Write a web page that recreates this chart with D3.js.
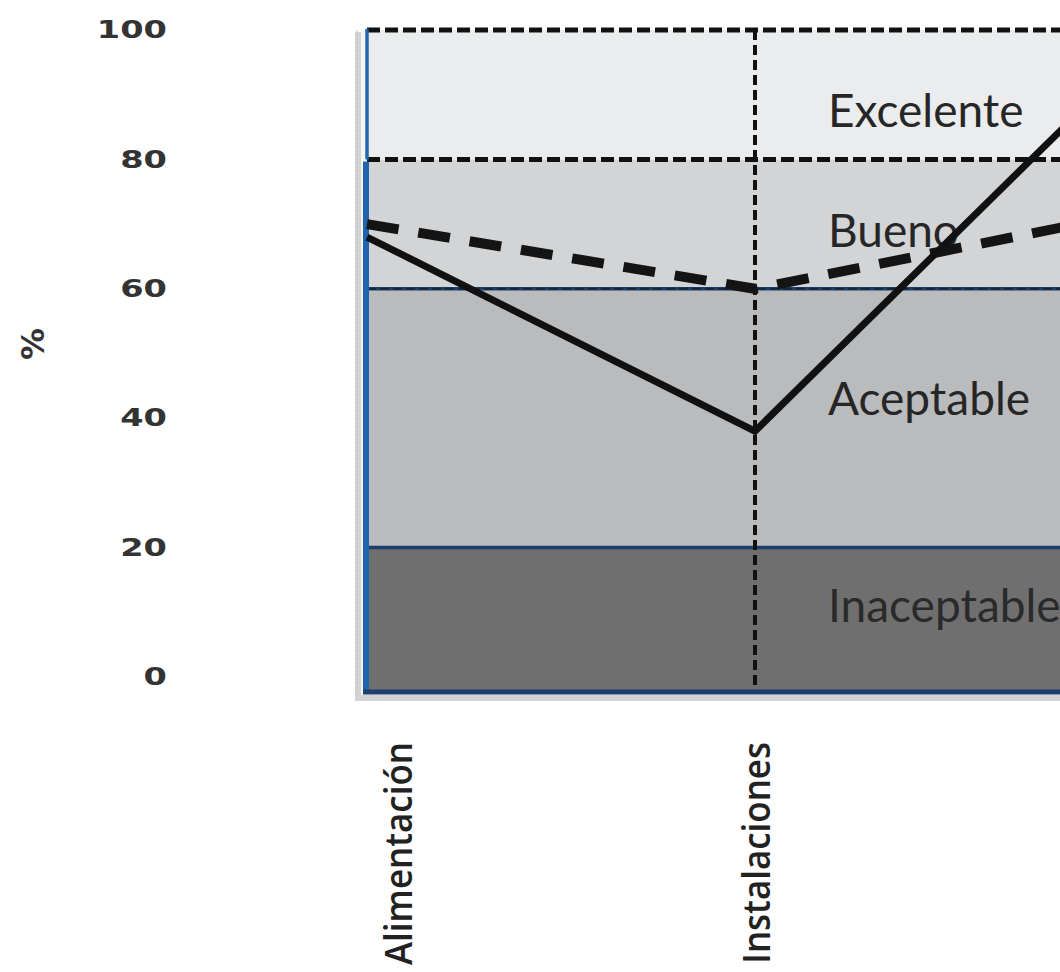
<!DOCTYPE html>
<html>
<head>
<meta charset="utf-8">
<script src="https://cdn.jsdelivr.net/npm/d3@7"></script>
<style>
  html, body { margin: 0; padding: 0; background: #ffffff; }
  svg { display: block; }
</style>
</head>
<body>
<svg id="chart" width="1060" height="972"></svg>
<script>
// Categories along the horizontal axis
const categories = ["Alimentación", "Instalaciones", "Salud"];
// Two series, in percent
const seriesSolid = [68, 38, 97];
const seriesDashed = [70, 60, 72];
// Vertical axis ticks
const yTicks = [0, 20, 40, 60, 80, 100];
// Quality bands (lower to upper) and their limits
const bandNames = ["Inaceptable", "Aceptable", "Bueno", "Excelente"];
const bandLimits = [0, 20, 60, 80, 100];
const axisTitle = "%";

const width = 1060;
const svg = d3.select("#chart");

// Layout
const plotLeft = 367;
const catStep = 388;
const y = d3.scaleLinear().domain([0, 100]).range([677, 30]);
const x = d3.scalePoint().domain(categories)
  .range([plotLeft, plotLeft + catStep * (categories.length - 1)]);
const plotRight = x.range()[1] + 40;
const plotTop = y(100);
const plotBottom = y(0) + 15;

const bandFill = ["#6f6f6f", "#babbbd", "#d3d4d5", "#ebeced"];
const bandLabelAt = [8.5, 40.5, 66.5, 85];   // text baseline, in axis units
const bandText = ["#2a2a2a", "#262626", "#262626", "#262626"];

// Soft shadow behind the plot frame
svg.append("rect")
  .attr("x", plotLeft - 12).attr("y", plotTop + 2)
  .attr("width", plotRight - plotLeft + 20)
  .attr("height", plotBottom - plotTop + 7)
  .attr("fill", "#d2d2d2");
svg.append("rect")
  .attr("x", plotLeft - 6).attr("y", plotTop)
  .attr("width", plotRight - plotLeft + 10)
  .attr("height", plotBottom - plotTop + 3)
  .attr("fill", "#f4f4f4");

// Bands
const bands = bandNames.map((name, i) => ({
  name, lo: bandLimits[i], hi: bandLimits[i + 1], fill: bandFill[i], at: bandLabelAt[i], color: bandText[i]
}));
svg.append("g").selectAll("rect").data(bands).join("rect")
  .attr("x", plotLeft)
  .attr("y", d => y(d.hi))
  .attr("width", plotRight - plotLeft)
  .attr("height", d => (d.lo === 0 ? plotBottom : y(d.lo)) - y(d.hi))
  .attr("fill", d => d.fill);

// Band labels
svg.append("g").selectAll("text").data(bands).join("text")
  .attr("x", x(categories[1]) + 73)
  .attr("y", d => y(d.at))
  .attr("font-family", "Lato, 'Open Sans', sans-serif")
  .attr("font-size", 46)
  .attr("fill", d => d.color)
  .text(d => d.name);

// Band limit lines: 60 and 20 solid navy, 80 and 100 black dashed
const navy = "#1c3f6e";
[60, 20].forEach(v => {
  svg.append("line")
    .attr("x1", plotLeft).attr("x2", plotRight)
    .attr("y1", y(v)).attr("y2", y(v))
    .attr("stroke", navy).attr("stroke-width", 3.5);
});
svg.append("line")
  .attr("x1", plotLeft).attr("x2", plotRight)
  .attr("y1", y(60)).attr("y2", y(60))
  .attr("stroke", "#111").attr("stroke-width", 2)
  .attr("stroke-dasharray", "9,4").attr("opacity", 0.55);
[100, 80].forEach(v => {
  svg.append("line")
    .attr("x1", plotLeft).attr("x2", plotRight)
    .attr("y1", y(v)).attr("y2", y(v))
    .attr("stroke", "#111").attr("stroke-width", 5)
    .attr("stroke-dasharray", "13,5");
});

// Vertical dashed guides at interior categories
svg.append("g").selectAll("line").data(categories.slice(1)).join("line")
  .attr("x1", d => x(d)).attr("x2", d => x(d))
  .attr("y1", plotTop).attr("y2", plotBottom)
  .attr("stroke", "#111").attr("stroke-width", 4)
  .attr("stroke-dasharray", "10,5");

// Frame: left border (thin above 80, thick below) and bottom border
svg.append("line")
  .attr("x1", plotLeft - 10).attr("x2", plotLeft - 10)
  .attr("y1", plotTop).attr("y2", plotBottom)
  .attr("stroke", "#bdbdbd").attr("stroke-width", 1)
  .attr("stroke-dasharray", "2,2");
svg.append("line")
  .attr("x1", plotLeft).attr("x2", plotLeft)
  .attr("y1", plotTop - 1).attr("y2", y(80))
  .attr("stroke", "#2466ad").attr("stroke-width", 3.5);
svg.append("line")
  .attr("x1", plotLeft - 1).attr("x2", plotLeft - 1)
  .attr("y1", y(80) + 2).attr("y2", plotBottom)
  .attr("stroke", "#1f64ad").attr("stroke-width", 6);
svg.append("line")
  .attr("x1", plotLeft - 4).attr("x2", plotRight)
  .attr("y1", plotBottom).attr("y2", plotBottom)
  .attr("stroke", navy).attr("stroke-width", 5);

// Series lines
const line = d3.line()
  .x((d, i) => x(categories[i]))
  .y(d => y(d));

svg.append("path")
  .datum(seriesDashed)
  .attr("d", line)
  .attr("fill", "none")
  .attr("stroke", "#141414")
  .attr("stroke-width", 10)
  .attr("stroke-dasharray", "32,20");

svg.append("path")
  .datum(seriesSolid)
  .attr("d", line)
  .attr("fill", "none")
  .attr("stroke", "#111")
  .attr("stroke-width", 7)
  .attr("stroke-linejoin", "miter");

// Vertical axis labels (wide, bold digits)
const yAxis = d3.axisLeft(y).tickValues(yTicks).tickSize(0).tickPadding(0);
const gy = svg.append("g").attr("transform", "translate(167,0)").call(yAxis);
gy.select(".domain").remove();
gy.selectAll("text")
  .attr("x", 0)
  .attr("transform", "scale(1.4,1)")
  .attr("font-family", "'DejaVu Sans', sans-serif")
  .attr("font-weight", "bold")
  .attr("font-size", 24)
  .attr("fill", "#333");

// Axis title
svg.append("text")
  .attr("transform", "translate(33,344) rotate(-90)")
  .attr("text-anchor", "middle")
  .attr("dominant-baseline", "central")
  .attr("font-family", "'DejaVu Sans', sans-serif")
  .attr("font-weight", "bold")
  .attr("font-size", 32)
  .attr("fill", "#333")
  .text(axisTitle);

// Category labels, rotated, hanging below the plot (only those inside the view)
const xAxis = d3.axisBottom(x).tickSize(0).tickPadding(0)
  .tickValues(categories.filter(c => x(c) < width - 20));
const gx = svg.append("g").attr("transform", "translate(0,742)").call(xAxis);
gx.select(".domain").remove();
gx.selectAll(".tick")
  .attr("transform", d => `translate(${Math.max(x(d), plotLeft + 30)},0)`);
gx.selectAll("text")
  .attr("x", 0).attr("y", 0).attr("dy", null)
  .attr("text-anchor", "end")
  .attr("dominant-baseline", "central")
  .attr("transform", "rotate(-90) scale(0.92,1)")
  .attr("font-family", "'Open Sans', sans-serif")
  .attr("font-weight", 600)
  .attr("font-size", 38)
  .attr("fill", "#222");
</script>
</body>
</html>
